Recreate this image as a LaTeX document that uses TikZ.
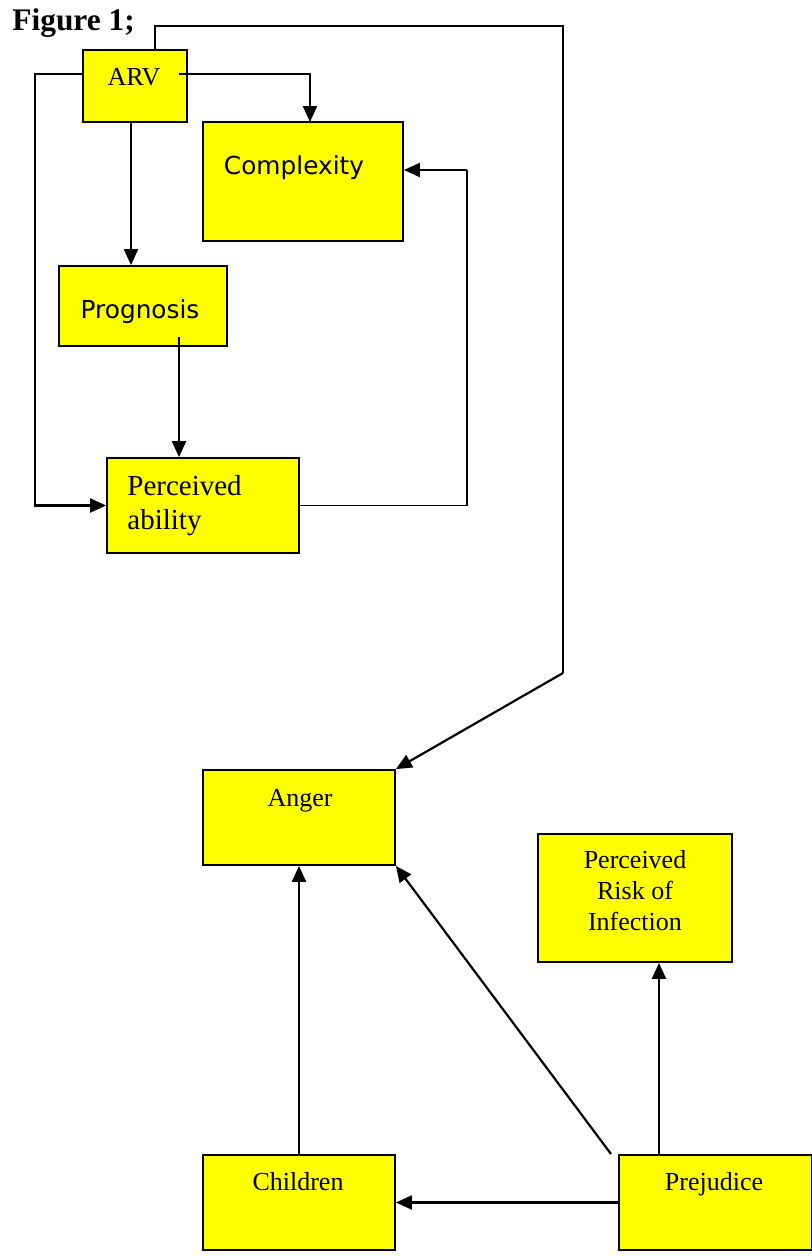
\documentclass[tikz,border=0pt]{standalone}
\usepackage{fontspec}
\setmainfont{Liberation Serif}
\newfontfamily\verdana{DejaVu Sans}
\usetikzlibrary{arrows.meta,fit}

\definecolor{boxyellow}{RGB}{255,255,0}

\tikzset{
  box/.style={draw=black, line width=0.9pt, fill=boxyellow, inner sep=0pt},
  lbl/.style={inner sep=0pt, font=\fontsize{13}{15.5}\selectfont},
  sanslbl/.style={inner sep=0pt, font=\verdana\fontsize{12.4}{15}\selectfont},
  conn/.style={line width=1.1pt, -{Triangle[length=8pt,width=7pt]}},
  wire/.style={line width=0.8pt},
}

\begin{document}
\begin{tikzpicture}[x=0.5pt,y=-0.5pt]
  \useasboundingbox (0,0) rectangle (811,1258);

  \node[anchor=base west, inner sep=0pt, font=\bfseries\fontsize{15.7}{18}\selectfont] (fig) at (12,31) {Figure 1;};

  % boxes
  \node[box, fit={(83,50) (187,122)}] (arv) {};
  \node[box, fit={(203,122) (403,241)}] (complex) {};
  \node[box, fit={(59,266) (227,346)}] (prog) {};
  \node[box, fit={(107,458) (299,553)}] (perc) {};
  \node[box, fit={(203,770) (395,865)}] (anger) {};
  \node[box, fit={(538,834) (732,962)}] (risk) {};
  \node[box, fit={(203,1155) (395,1250)}] (child) {};
  \node[box, fit={(619,1155) (812,1250)}] (prej) {};

  % labels
  \node[lbl, anchor=base] (arvT) at (134,85) {ARV};
  \node[sanslbl, anchor=base] (complexT) at (294,174) {Complexity};
  \node[sanslbl, anchor=base] (progT) at (140,318) {Prognosis};
  \node[lbl, anchor=base west, font=\fontsize{14.5}{17}\selectfont] (percT1) at (127,495) {Perceived};
  \node[lbl, anchor=base west, font=\fontsize{14.5}{17}\selectfont] (percT2) at (127,529) {ability};
  \node[lbl, anchor=base] (angerT) at (300,806) {Anger};
  \node[lbl, anchor=base] (riskT1) at (635,868) {Perceived};
  \node[lbl, anchor=base] (riskT2) at (635,899) {Risk of};
  \node[lbl, anchor=base] (riskT3) at (635,930) {Infection};
  \node[lbl, anchor=base] (childT) at (298,1190) {Children};
  \node[lbl, anchor=base] (prejT) at (714,1190) {Prejudice};

  % bend points
  \coordinate (arvTop) at (155,50);
  \coordinate (topR) at (563,26);
  \coordinate (loopC) at (563,673);
  \coordinate (arvL) at (83,74);
  \coordinate (leftL) at (35,506);
  \coordinate (arvR) at (179,74);
  \coordinate (complexIn) at (310,122);
  \coordinate (arvB) at (131,122);
  \coordinate (progB) at (179,337);
  \coordinate (fbR) at (467,170);
  \coordinate (prejL) at (611,1154);
  \coordinate (prejTop) at (659,1155);

  % connectors
  \draw[wire] (arvTop) |- (topR) -- (loopC);
  \draw[conn] (loopC) -- (anger.north east);
  \draw[conn] (arvL) -| (leftL |- perc.west) -- (perc.west);
  \draw[conn] (arvR) -| (complexIn);
  \draw[conn] (arvB) -- (arvB |- prog.north);
  \draw[conn] (progB) -- (progB |- perc.north);
  \draw[wire] (perc.east) -| (fbR);
  \draw[conn] (fbR) -- (fbR -| complex.east);
  \draw[conn] (child.north) -- (anger.south);
  \draw[conn] (prejL) -- (anger.south east);
  \draw[conn] (prej.west) -- (child.east);
  \draw[conn] (prejTop) -- (prejTop |- risk.south);
\end{tikzpicture}
\end{document}
